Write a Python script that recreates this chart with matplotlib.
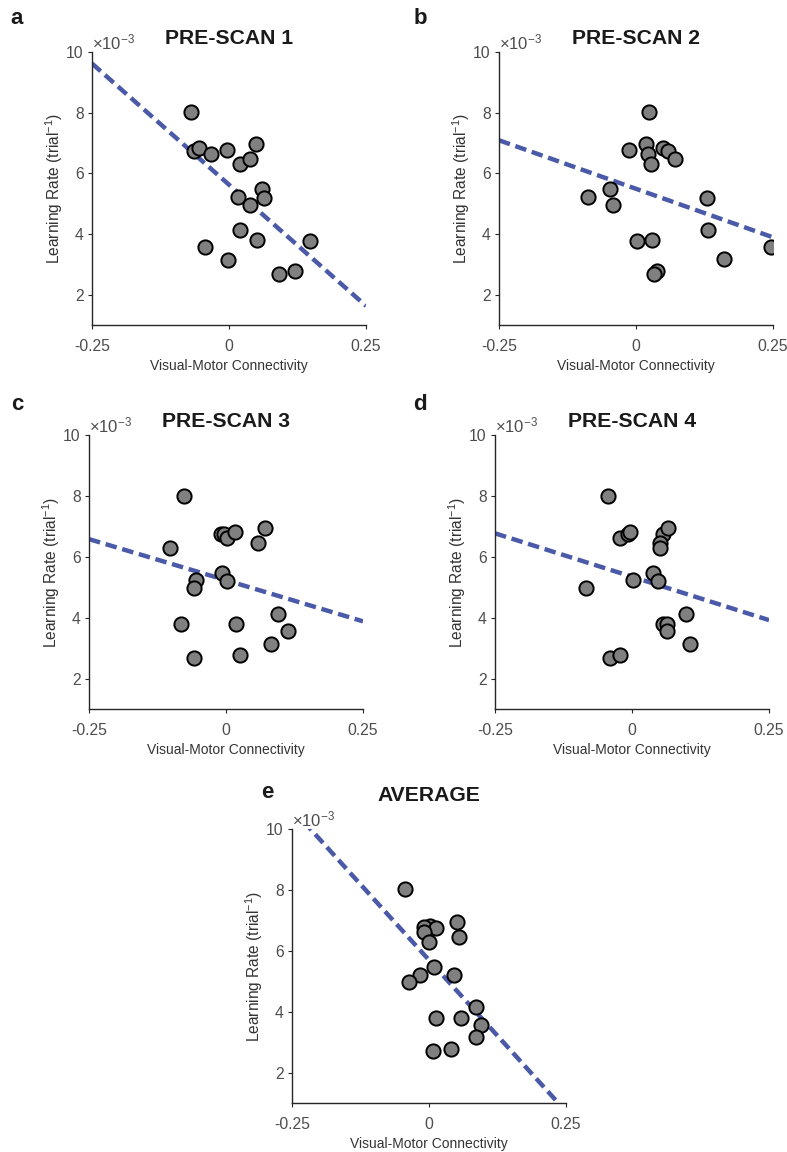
"""Scatter + regression line per pre-scan: visual-motor connectivity vs learning rate."""

import matplotlib
matplotlib.use("Agg")
import matplotlib.pyplot as plt
import numpy as np

plt.rcParams['font.family'] = ['Liberation Sans', 'DejaVu Sans']
plt.rcParams['mathtext.fontset'] = 'custom'
plt.rcParams['mathtext.rm'] = 'Liberation Sans'
plt.rcParams['mathtext.it'] = 'Liberation Sans:italic'

# learning rates (trial^-1), x10^-3, per panel in the order the points were read
lr_a = [8.03, 6.74, 6.83, 6.63, 6.76, 6.30, 6.46, 6.96, 5.48, 5.20, 5.23, 4.96, 4.13, 3.80, 3.56, 3.14, 2.69, 2.78, 3.78]
conn_a = [-0.070, -0.064, -0.055, -0.033, -0.004, 0.020, 0.038, 0.049, 0.060, 0.063, 0.016, 0.039, 0.020, 0.052, -0.043, -0.002, 0.092, 0.121, 0.147]

lr_b = [8.01, 6.96, 6.63, 6.30, 6.76, 6.83, 6.74, 6.46, 5.21, 5.47, 4.96, 5.20, 4.13, 3.78, 3.80, 2.79, 2.69, 3.16, 3.56]
conn_b = [0.024, 0.018, 0.021, 0.028, -0.012, 0.050, 0.058, 0.072, -0.088, -0.047, -0.042, 0.130, 0.132, 0.001, 0.029, 0.038, 0.032, 0.161, 0.247]

lr_c = [8.01, 6.30, 6.74, 6.76, 6.63, 6.83, 6.96, 6.46, 5.48, 5.20, 5.23, 4.96, 4.13, 3.80, 3.78, 3.56, 3.14, 2.69, 2.78]
conn_c = [-0.077, -0.102, -0.010, -0.004, 0.001, 0.017, 0.071, 0.058, -0.007, 0.002, -0.055, -0.058, 0.095, -0.083, 0.019, 0.114, 0.082, -0.059, 0.025]

lr_d = [8.01, 6.63, 6.76, 6.83, 6.74, 6.96, 6.46, 6.30, 5.48, 5.20, 5.23, 4.96, 4.13, 3.80, 3.78, 3.56, 3.14, 2.69, 2.78]
conn_d = [-0.043, -0.022, -0.008, -0.003, 0.057, 0.066, 0.051, 0.052, 0.038, 0.047, 0.001, -0.084, 0.098, 0.057, 0.064, 0.063, 0.106, -0.040, -0.021]

lr_e = [8.02, 6.83, 6.77, 6.75, 6.61, 6.30, 6.94, 6.45, 5.47, 5.21, 5.21, 4.96, 4.14, 3.79, 3.78, 3.55, 3.16, 2.70, 2.77]
conn_e = [-0.043, 0.002, -0.010, 0.013, -0.009, 0.000, 0.051, 0.055, 0.010, -0.016, 0.045, -0.036, 0.086, 0.013, 0.058, 0.095, 0.086, 0.007, 0.040]

# fitted line values at x = -0.25 and x = 0.25 (x10^-3)
fit_a = [9.62, 1.63]
fit_b = [7.09, 3.89]
fit_c = [6.58, 3.88]
fit_d = [6.77, 3.92]
fit_e = [10.67, 0.72]

titles = ['PRE-SCAN 1', 'PRE-SCAN 2', 'PRE-SCAN 3', 'PRE-SCAN 4', 'AVERAGE']
letters = ['a', 'b', 'c', 'd', 'e']
x_ends = [-0.25, 0.25]
xticks = [-0.25, 0, 0.25]
xticklabels = ['-0.25', '0', '0.25']
yticks = [2, 4, 6, 8, 10]

W, H = 787, 1152
fig = plt.figure(figsize=(W / 100, H / 100), dpi=100)

# axes boxes in pixels: left, top, right, bottom
boxes = [(92, 52, 366, 325), (499, 52, 773, 325),
         (89, 435, 363, 709), (495, 435, 769, 709),
         (292, 829, 566, 1103)]
letter_pos = [(17, 18), (420, 18), (17, 405), (420, 405), (267, 793)]
title_pads = [6, 6, 6, 6, 20]

panels = [(conn_a, lr_a, fit_a), (conn_b, lr_b, fit_b), (conn_c, lr_c, fit_c),
          (conn_d, lr_d, fit_d), (conn_e, lr_e, fit_e)]

tick_grey = '#4d4d4d'
line_blue = '#4a5aa8'

for i, (conn, lr, fit) in enumerate(panels):
    l, t, r, b = boxes[i]
    ax = fig.add_axes([l / W, 1 - b / H, (r - l) / W, (b - t) / H])
    lr_val = np.array(lr) * 1e-3
    ax.plot(x_ends, np.array(fit) * 1e-3, '--', color=line_blue, lw=3.2,
            dashes=(2.6, 1.3), zorder=2)
    ax.scatter(conn, lr_val, s=105, facecolor='#808080', edgecolor='black',
               linewidth=1.4, zorder=3)
    ax.set_xlim(-0.25, 0.25)
    ax.set_ylim(1e-3, 10e-3)
    ax.set_xticks(xticks)
    ax.set_xticklabels(xticklabels)
    ax.set_yticks(np.array(yticks) * 1e-3)
    ax.set_yticklabels([str(v) for v in yticks])
    for side in ['top', 'right']:
        ax.spines[side].set_visible(False)
    for side in ['left', 'bottom']:
        ax.spines[side].set_color('#262626')
        ax.spines[side].set_linewidth(1.0)
    ax.tick_params(direction='out', length=3, width=0.8, colors='#262626',
                   labelcolor=tick_grey, labelsize=11.3)
    ax.tick_params(axis='x', pad=7)
    ax.tick_params(axis='y', pad=3)
    ax.set_xlabel('Visual-Motor Connectivity', fontsize=10, color='#333333', labelpad=3.5)
    ax.set_ylabel(r'Learning Rate (trial$^{\mathrm{-1}}$)', fontsize=11.2,
                  color='#333333', labelpad=1)
    ax.text(0.0, 1.0, r'$\times$10$^{\mathrm{-3}}$', transform=ax.transAxes,
            fontsize=12, color=tick_grey, ha='left', va='bottom')
    ax.set_title(titles[i], fontsize=15.2, fontweight='bold', color='#1a1a1a',
                 pad=title_pads[i])
    lx, ly = letter_pos[i]
    fig.text(lx / W, 1 - ly / H, letters[i], fontsize=16, fontweight='bold',
             ha='center', va='center', color='#1a1a1a')

fig.savefig('out.png', dpi=100)
